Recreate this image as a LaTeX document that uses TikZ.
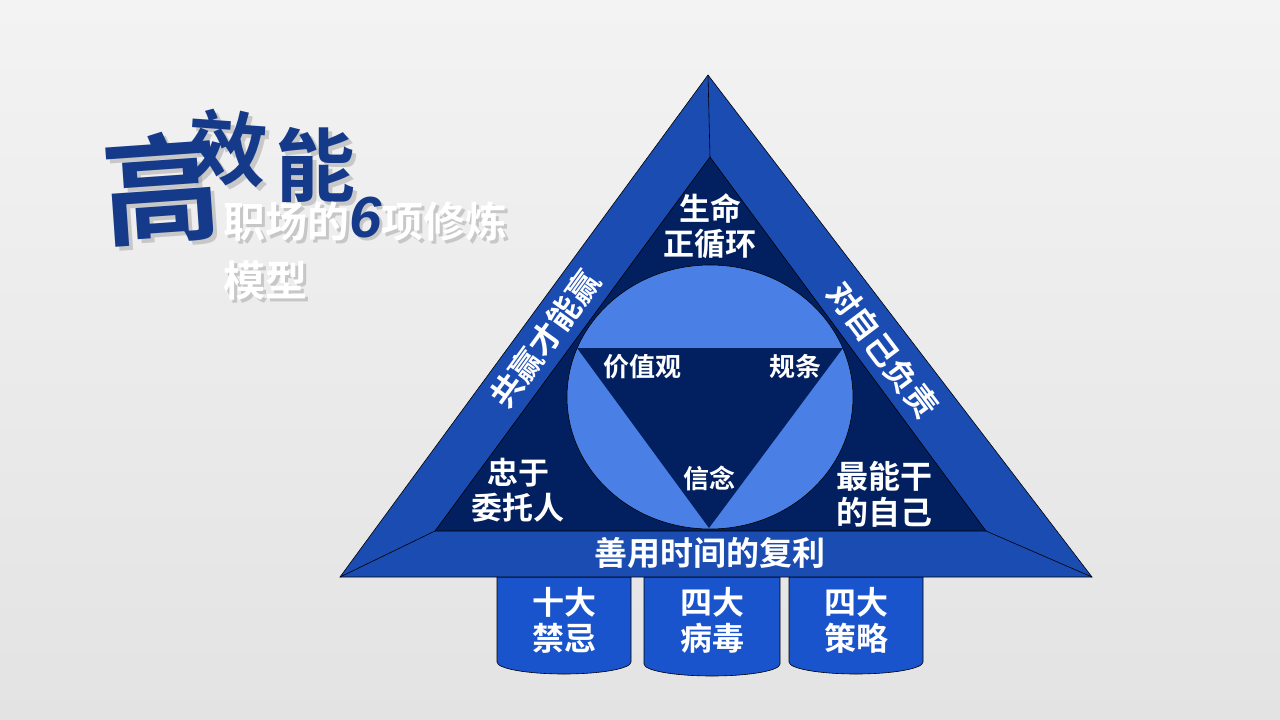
\documentclass[tikz,border=0pt]{standalone}
\usepackage{fontspec}
\newfontfamily\cjk{Noto Sans CJK SC}[BoldFont={* Bold}]
\newfontfamily\digits{Liberation Sans}
\usetikzlibrary{positioning}
\definecolor{bandblue}{RGB}{26,76,178}
\definecolor{navy}{RGB}{2,32,96}
\definecolor{lightblue}{RGB}{74,128,230}
\definecolor{cylblue}{RGB}{26,84,204}
\definecolor{titleblue}{RGB}{22,58,138}
\definecolor{bgtop}{RGB}{243,243,243}
\definecolor{bgbot}{RGB}{228,227,227}
\tikzset{x=1pt, y=-1pt}
\newcommand{\six}[1]{{\color{#1}\digits\bfseries\itshape\fontsize{58}{58}\selectfont 6}}

\begin{document}
\begin{tikzpicture}[
  edge/.style={draw=black, line width=0.6pt},
  lbl/.style={text=white, font=\cjk\bfseries\fontsize{31}{35}\selectfont, align=center, inner sep=0pt},
  small lbl/.style={lbl, font=\cjk\bfseries\fontsize{26}{30}\selectfont},
  wide lbl/.style={lbl, font=\cjk\bfseries\fontsize{32}{36}\selectfont},
  cyl/.style={fill=cylblue, edge},
  big title/.style={text=titleblue, font=\cjk\bfseries\fontsize{80}{80}\selectfont, inner sep=0pt},
  sub title/.style={text=white, font=\cjk\bfseries\fontsize{42}{58}\selectfont, anchor=base west, inner sep=0pt},
  shadow/.style={text=black!40, opacity=0.45}
]
% background
\shade[top color=bgtop, bottom color=bgbot] (0,0) rectangle (1280,720);

% title
\node[big title, shadow, font=\cjk\bfseries\fontsize{118}{118}\selectfont, rotate=4] at (165,192) {高};
\node[big title, shadow, rotate=-4] at (232,152) {效};
\node[big title, shadow] at (319,169) {能};
\node[big title, font=\cjk\bfseries\fontsize{118}{118}\selectfont, rotate=4] (gao) at (161,188) {高};
\node[big title, rotate=-4] (xiao) at (228,148) {效};
\node[big title] (neng) at (315,165) {能};
\node[sub title, shadow] at (226,240) {职场的\six{black!40}项修炼};
\node[sub title, shadow] at (226,299) {模型};
\node[sub title] (subtitle) at (223,237) {职场的\six{titleblue}项修炼};
\node[sub title] (model) at (223,296) {模型};

% bases
\path[cyl] (497,577) -- (497,662) arc[start angle=180, end angle=0, x radius=67, y radius=12] -- (631,577) -- cycle;
\path[cyl] (644,577) -- (644,664) arc[start angle=180, end angle=0, x radius=68, y radius=12] -- (780,577) -- cycle;
\path[cyl] (789,577) -- (789,662) arc[start angle=180, end angle=0, x radius=67, y radius=12] -- (923,577) -- cycle;

% triangle
\coordinate (A) at (708,75);
\coordinate (B) at (340,577);
\coordinate (C) at (1092,577);
\coordinate (a) at (710,157);
\coordinate (b) at (435,531);
\coordinate (c) at (986,531);
\filldraw[fill=bandblue, edge] (A) -- (B) -- (C) -- cycle;
\draw[edge] (A) -- (a) (B) -- (b) (C) -- (c);
\filldraw[fill=navy, edge] (a) -- (b) -- (c) -- cycle;
\filldraw[fill=lightblue, edge] (710,397) ellipse[x radius=143, y radius=132];
\fill[navy] (577,348) -- (843,348) -- (709,528) -- cycle;

% labels
\node[lbl] (life) at (710,226) {生命\\正循环};
\node[small lbl] (values) at (642,367) {价值观};
\node[small lbl] (rules) at (795,367) {规条};
\node[small lbl] (belief) at (709,478) {信念};
\node[lbl] (loyal) at (518,490) {忠于\\委托人};
\node[wide lbl] (best) at (884,494) {最能干\\的自己};
\node[wide lbl, font=\cjk\bfseries\fontsize{33}{36}\selectfont] (time) at (710,553) {善用时间的复利};
\node[wide lbl, rotate=54] (winwin) at (545,339) {共赢才能赢};
\node[wide lbl, rotate=-53] (self) at (883,350) {对自己负责};
\node[wide lbl] (taboo) at (564,620) {十大\\禁忌};
\node[wide lbl] (virus) at (712,620) {四大\\病毒};
\node[wide lbl] (tactic) at (856,620) {四大\\策略};
\end{tikzpicture}
\end{document}
